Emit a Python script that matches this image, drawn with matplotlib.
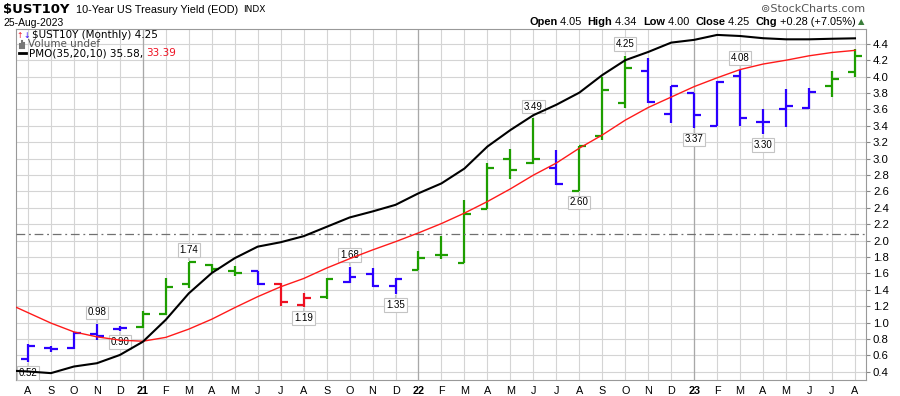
import matplotlib.pyplot as plt
from matplotlib.lines import Line2D
import numpy as np

W, H = 900, 396

# monthly bars Aug 2020 .. Aug 2023
month_labels = ['A', 'S', 'O', 'N', 'D', '21', 'F', 'M', 'A', 'M', 'J', 'J',
                'A', 'S', 'O', 'N', 'D', '22', 'F', 'M', 'A', 'M', 'J', 'J',
                'A', 'S', 'O', 'N', 'D', '23', 'F', 'M', 'A', 'M', 'J', 'J', 'A']
opens  = [0.56, 0.69, 0.69, 0.86, 0.92, 0.94, 1.10, 1.47, 1.70, 1.63, 1.63, 1.47,
          1.21, 1.31, 1.49, 1.59, 1.44, 1.64, 1.82, 1.73, 2.39, 3.00, 2.95, 2.88,
          2.61, 3.27, 3.68, 4.07, 3.54, 3.80, 3.40, 4.01, 3.45, 3.61, 3.62, 3.88, 4.05]
highs  = [0.74, 0.71, 0.88, 0.98, 0.96, 1.14, 1.54, 1.74, 1.71, 1.69, 1.63, 1.48,
          1.36, 1.54, 1.68, 1.67, 1.54, 1.87, 2.05, 2.49, 2.94, 3.12, 3.49, 3.10,
          3.15, 3.99, 4.25, 4.23, 3.89, 3.80, 3.94, 4.08, 3.61, 3.85, 3.86, 4.07, 4.34]
lows   = [0.52, 0.64, 0.68, 0.79, 0.90, 0.93, 1.09, 1.42, 1.62, 1.57, 1.46, 1.20,
          1.19, 1.29, 1.48, 1.43, 1.35, 1.64, 1.78, 1.73, 2.39, 2.75, 2.93, 2.68,
          2.60, 3.22, 3.62, 3.68, 3.43, 3.37, 3.40, 3.40, 3.30, 3.38, 3.61, 3.75, 4.00]
closes = [0.71, 0.68, 0.87, 0.84, 0.93, 1.11, 1.43, 1.74, 1.65, 1.60, 1.47, 1.25,
          1.30, 1.53, 1.55, 1.44, 1.53, 1.79, 1.82, 2.32, 2.89, 2.86, 2.99, 2.69,
          3.15, 3.84, 4.11, 3.69, 3.88, 3.53, 3.93, 3.50, 3.45, 3.64, 3.81, 3.97, 4.25]
bar_colors = list('bbbbbgggggbrrgbbbggggggbgggbbbbbbbbgg')

# PMO(35,20,10) and its signal line, Jul 2020 .. Aug 2023
pmo = [-24.8, -25.0, -25.3, -24.1, -23.5, -22.0, -19.6, -15.6, -10.8, -7.1, -4.4, -2.3,
       -1.5, -0.4, 1.3, 3.0, 4.1, 5.3, 7.4, 9.2, 11.9, 15.9, 18.9, 21.6,
       23.5, 25.7, 28.9, 31.6, 33.1, 34.8, 35.3, 36.2, 36.0, 35.6, 35.4, 35.4, 35.5, 35.58]
pmo_signal = [-12.4, -14.3, -16.2, -17.8, -18.7, -19.3, -19.5, -18.8, -17.3, -15.5, -13.4, -11.4,
              -9.6, -8.1, -6.2, -4.5, -2.9, -1.4, 0.2, 1.9, 3.8, 5.9, 8.2, 10.7,
              12.9, 15.6, 18.0, 20.7, 23.0, 24.9, 26.8, 28.4, 29.9, 30.9, 31.6, 32.4, 33.0, 33.39]

# value flags: (bar index, 'high' or 'low')
flag_idx = [0, 3, 4, 7, 12, 14, 16, 22, 24, 26, 29, 31, 32]
flag_side = ['low', 'high', 'low', 'high', 'low', 'high', 'low',
             'high', 'low', 'high', 'low', 'high', 'low']

cmap = {'b': '#2b00ff', 'g': '#1e9e00', 'r': '#ee1122'}
sans = 'Liberation Sans'


def fx(px):
    return px / W


def fy(py):
    return 1 - py / H


fig = plt.figure(figsize=(9, 3.96), dpi=100)
fig.patch.set_facecolor('white')

ax = fig.add_axes([fx(16), fy(380), (866 - 16) / W, (380 - 29.3) / H])
# PMO gets its own hidden scale (twinx resets ax ticks to the left, so do it first)
ax2 = ax.twinx()
idx = np.arange(len(month_labels))

ax.set_xlim(-0.52, 36.48)
ax.set_ylim(0.299, 4.576)

# grid
ax.set_xticks(idx)
ax.set_xticklabels(month_labels)
for t, lab in zip(ax.get_xticklabels(), month_labels):
    if lab.isdigit():
        t.set_fontweight('bold')
ax.set_yticks(np.round(np.arange(0.4, 4.41, 0.2), 1))
ax.set_yticklabels(['%.1f' % v for v in np.arange(0.4, 4.41, 0.2)])
ax.grid(True, color='#d4d4d4', lw=0.8)
ax.set_axisbelow(True)
for i, lab in zip(idx, month_labels):
    if lab.isdigit():
        ax.axvline(i, color='#a8a8a8', lw=0.9, zorder=0.6)

ax.yaxis.tick_right()
ax.yaxis.set_label_position('right')
ax.tick_params(axis='y', direction='out', length=3, width=0.8, color='#888888',
               pad=2, labelsize=8.2)
ax.tick_params(axis='x', length=0, pad=4, labelsize=7.8)
for t in ax.get_xticklabels() + ax.get_yticklabels():
    t.set_family(sans)
for s in ax.spines.values():
    s.set_color('#999999')
    s.set_linewidth(0.8)

# OHLC bars
cols = [cmap[c] for c in bar_colors]
ax.vlines(idx, lows, highs, colors=cols, lw=1.6, zorder=3)
ax.hlines(opens, idx - 0.3, idx, colors=cols, lw=1.6, zorder=3)
ax.hlines(closes, idx, idx + 0.3, colors=cols, lw=1.6, zorder=3)

# flags
for i, side in zip(flag_idx, flag_side):
    v = highs[i] if side == 'high' else lows[i]
    off = 8.5 if side == 'high' else -8
    ax.annotate('%.2f' % v, xy=(i, v), xytext=(0, off), textcoords='offset points',
                ha='center', va='center', fontsize=7, family=sans, zorder=5,
                bbox=dict(boxstyle='square,pad=0.18', fc='white', ec='#c4c4c4', lw=0.8),
                arrowprops=dict(arrowstyle='-', color='#c4c4c4', lw=0.8,
                                shrinkA=0, shrinkB=1))

ax2.set_ylim(-26.55, 37.22)
ax2.set_xlim(-0.52, 36.48)
ax2.axis('off')
pmo_x = np.arange(-1, len(month_labels))
ax2.axhline(0, color='#707070', lw=0.9, ls=(0, (7, 3, 1.5, 3)))
ax2.plot(pmo_x, pmo_signal, color='#ff1a1a', lw=1.0)
ax2.plot(pmo_x, pmo, color='black', lw=1.5)

# title block
fig.text(fx(3), fy(10), '$UST10Y', fontsize=9.5, fontweight='bold', va='center',
         family='DejaVu Sans')
fig.text(fx(76), fy(10), '10-Year US Treasury Yield (EOD)', fontsize=7.8,
         va='center', family=sans)
fig.text(fx(243), fy(10), 'INDX', fontsize=6.5, va='center', family='DejaVu Sans')
fig.text(fx(3), fy(23), '25-Aug-2023', fontsize=7.5, va='center', family=sans)
fig.text(fx(865), fy(9), '\u229aStockCharts.com', fontsize=8, va='center', ha='right',
         color='#555555', family='DejaVu Sans')

# header line with OHLC summary
parts = [('Open', True), (' 4.05  ', False), ('High', True), (' 4.34  ', False),
         ('Low', True), (' 4.00  ', False), ('Close', True), (' 4.25  ', False),
         ('Chg', True), (' +0.28 (+7.05%)', False)]
prev = fig.text(fx(529), fy(27), parts[0][0], fontsize=7.9, fontweight='bold',
                va='bottom', family=sans)
for s, bold in parts[1:]:
    prev = ax.annotate(s, xy=(1, 0), xycoords=prev, va='bottom', ha='left',
                       fontsize=7.9, fontweight='bold' if bold else 'normal',
                       family=sans, annotation_clip=False)
ax.annotate('\u25b2', xy=(1, 0.1), xycoords=prev, xytext=(2, 0),
            textcoords='offset points', va='bottom', ha='left',
            fontsize=6, color='#3a7d3a', family='DejaVu Sans', annotation_clip=False)

# legend inside the price panel
fig.text(fx(16.5), fy(35), '\u2191', fontsize=5.5, color='#ee1122', va='center',
         family='DejaVu Sans')
fig.text(fx(23), fy(35), '\u2193', fontsize=5.5, color='#2b00ff', va='center',
         family='DejaVu Sans')
fig.text(fx(32), fy(35), '$UST10Y (Monthly) 4.25', fontsize=7.5, va='center',
         family='DejaVu Sans')
for k, hgt in enumerate([4, 7, 5]):
    fig.add_artist(Line2D([fx(19.5 + 2.3 * k)] * 2, [fy(48), fy(48 - hgt)],
                          color='#777777', lw=1.5))
fig.text(fx(28), fy(44.3), 'Volume undef', fontsize=7.5, va='center',
         color='#555555', family='DejaVu Sans')
fig.add_artist(Line2D([fx(19), fx(26)], [fy(53.3), fy(53.3)], color='black', lw=2))
leg = fig.text(fx(29), fy(53.3), 'PMO(35,20,10) 35.58, ', fontsize=7.5,
               va='center', family='DejaVu Sans')
ax.annotate('33.39', xy=(1, 0), xycoords=leg, va='bottom', ha='left', fontsize=7.5,
            color='#ee1122', family='DejaVu Sans', annotation_clip=False)

fig.savefig('out.png', dpi=100)
